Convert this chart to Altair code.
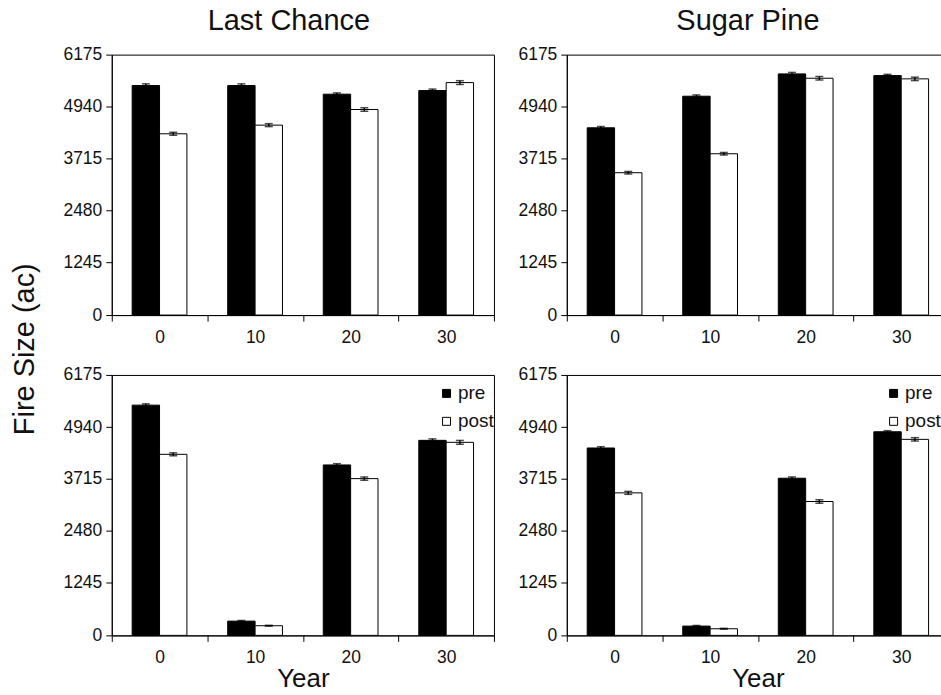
import altair as alt
import pandas as pd

# ---------------- data ----------------
years = ["0", "10", "20", "30"]
series = ["pre", "post"]
y_ticks = [0, 1245, 2480, 3715, 4940, 6175]

lc_top_pre = [5442, 5442, 5237, 5323]
lc_top_post = [4298, 4503, 4874, 5512]
lc_top_pre_err = [40, 40, 30, 35]
lc_top_post_err = [35, 35, 40, 45]

sp_top_pre = [4440, 5189, 5718, 5678]
sp_top_post = [3375, 3825, 5615, 5600]
sp_top_pre_err = [30, 30, 35, 30]
sp_top_post_err = [30, 30, 40, 40]

lc_bot_pre = [5459, 338, 4041, 4624]
lc_bot_post = [4293, 229, 3717, 4577]
lc_bot_pre_err = [30, 15, 30, 35]
lc_bot_post_err = [35, 10, 40, 45]

sp_bot_pre = [4443, 220, 3726, 4828]
sp_bot_post = [3379, 157, 3174, 4648]
sp_bot_pre_err = [30, 15, 30, 25]
sp_bot_post_err = [35, 10, 40, 40]

FONT = "Liberation Sans"


def make_df(pre, post, pre_err, post_err):
    rows = []
    for i, yr in enumerate(years):
        rows.append({"year": yr, "series": "pre", "value": pre[i],
                     "lo": pre[i] - pre_err[i], "hi": pre[i] + pre_err[i]})
        rows.append({"year": yr, "series": "post", "value": post[i],
                     "lo": post[i] - post_err[i], "hi": post[i] + post_err[i]})
    return pd.DataFrame(rows)


def panel(df, title=None, title_dx=0, xtitle=None, legend_x=None, width=383):
    x = alt.X(
        "year:N", sort=years,
        scale=alt.Scale(paddingInner=0, paddingOuter=0),
        axis=alt.Axis(tickBand="extent", labelAngle=0, title=xtitle,
                      labelFontSize=17.5, labelFont=FONT, labelColor="#111",
                      tickSize=6, labelPadding=7, domainColor="black",
                      tickColor="black", titleFontSize=26, titleFont=FONT,
                      titleFontWeight="normal", titleColor="#111", titlePadding=0,
                      grid=False),
    )
    xo = alt.XOffset("series:N", sort=series,
                     scale=alt.Scale(domain=series, paddingInner=0, paddingOuter=0.745))

    def yenc(field):
        return alt.Y(
            field, type="quantitative",
            scale=alt.Scale(domain=[0, 6175], nice=False, zero=True),
            axis=alt.Axis(values=y_ticks, format="d", title=None, labelFontSize=17.5,
                          labelFont=FONT, labelColor="#111", tickSize=6,
                          labelPadding=4, domainColor="black", tickColor="black",
                          grid=False, minExtent=48, maxExtent=48),
        )

    if legend_x is not None:
        leg = alt.Legend(orient="none", legendX=legend_x, legendY=9, title=None,
                         symbolType="square", symbolSize=64,
                         symbolStrokeColor="black", symbolStrokeWidth=1,
                         labelFontSize=19, labelFont=FONT, labelColor="#111",
                         padding=0, rowPadding=8, labelOffset=2)
    else:
        leg = None
    fill = alt.Fill("series:N", sort=series,
                    scale=alt.Scale(domain=series, range=["black", "white"]),
                    legend=leg)

    bars = alt.Chart(df).mark_bar(stroke="black", strokeWidth=1).encode(
        x=x, xOffset=xo, y=yenc("value"), fill=fill)
    rules = alt.Chart(df).mark_rule(color="black", strokeWidth=1.5).encode(
        x=x, xOffset=xo, y=yenc("lo"), y2="hi:Q")
    cap_hi = alt.Chart(df).mark_tick(color="black", size=8, thickness=1.5).encode(
        x=x, xOffset=xo, y=yenc("hi"))
    cap_lo = alt.Chart(df).mark_tick(color="black", size=8, thickness=1.5).encode(
        x=x, xOffset=xo, y=yenc("lo"))

    props = dict(width=width, height=261)
    if title:
        props["title"] = alt.TitleParams(title, fontSize=29, font=FONT,
                                         fontWeight="normal", color="#111",
                                         anchor="middle", offset=10, dx=title_dx)
    return alt.layer(bars, rules, cap_hi, cap_lo).properties(**props)


a = panel(make_df(lc_top_pre, lc_top_post, lc_top_pre_err, lc_top_post_err),
          title="Last Chance", title_dx=-14)
b = panel(make_df(sp_top_pre, sp_top_post, sp_top_pre_err, sp_top_post_err),
          title="Sugar Pine", title_dx=-10)
c = panel(make_df(lc_bot_pre, lc_bot_post, lc_bot_pre_err, lc_bot_post_err),
          xtitle="Year", legend_x=326)
d = panel(make_df(sp_bot_pre, sp_bot_post, sp_bot_pre_err, sp_bot_post_err),
          xtitle="Year", legend_x=318)

row1 = alt.hconcat(a, b, spacing=22).resolve_scale(fill="independent").resolve_legend(fill="independent")
row2 = alt.hconcat(c, d, spacing=22).resolve_scale(fill="independent").resolve_legend(fill="independent")

chart = (
    alt.vconcat(row1, row2, spacing=19)
    .resolve_scale(fill="independent")
    .resolve_legend(fill="independent")
    .properties(
        title=alt.TitleParams("Fire Size (ac)", orient="left", anchor="middle",
                              fontSize=29, font=FONT, fontWeight="normal",
                              color="#111", offset=22),
        padding={"left": 11, "top": 5, "right": -9, "bottom": 0},
        background="white",
    )
    .configure_view(stroke="black", strokeWidth=1)
)

chart.save("out.html", embed_options={"renderer": "svg", "actions": False})
